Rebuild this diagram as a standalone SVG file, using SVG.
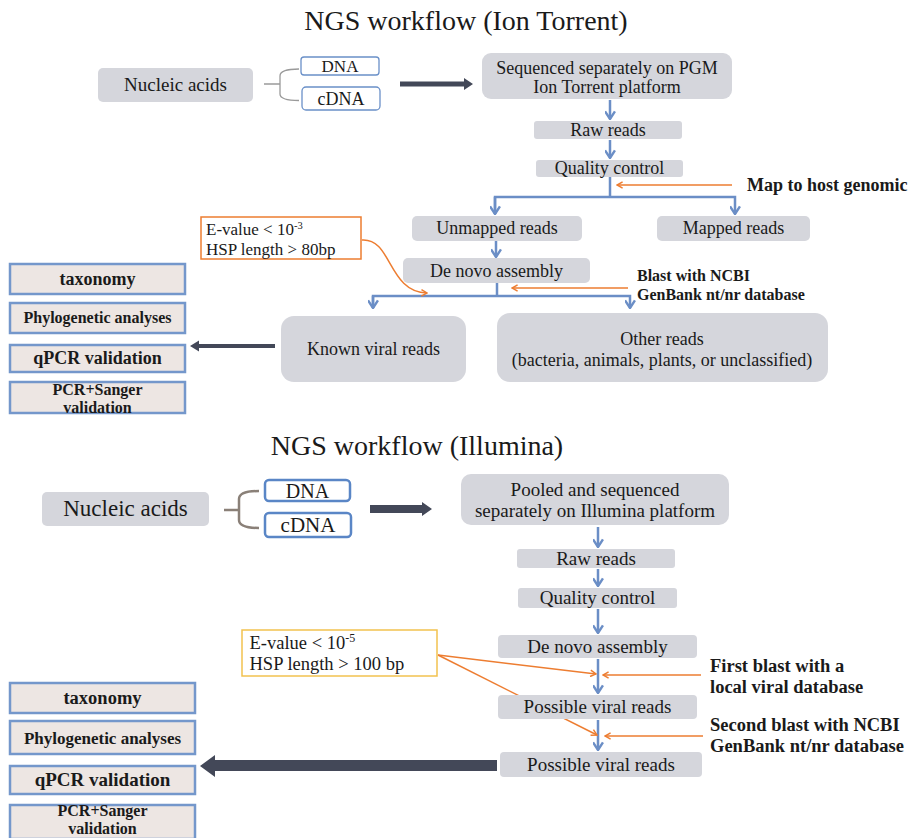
<svg xmlns="http://www.w3.org/2000/svg" width="914" height="838" viewBox="0 0 914 838">
<defs>
<style>
text{font-family:"Liberation Serif","Times New Roman",serif;fill:#1a1a1a}
.g{fill:#d5d6dc}
.w{fill:#fff;stroke:#6a90c8;stroke-width:1.3}
.w2{fill:#fff;stroke:#5a86c6;stroke-width:2.5}
.lb{fill:#ede6e3;stroke:#7497cb;stroke-width:2.5}
.b{font-weight:bold}
.bl{stroke:#6b8ec6;stroke-width:2.5;fill:none}
.or{stroke:#ed7d31;stroke-width:1.5;fill:none}
.dk{fill:#434858}
.c{text-anchor:middle}
</style>
<marker id="ab" viewBox="0 0 10 10" refX="9" refY="5" markerWidth="11" markerHeight="11" markerUnits="userSpaceOnUse" orient="auto">
<path d="M2,0.5 L9,5 L2,9.5" fill="none" stroke="#6b8ec6" stroke-width="2.2"/>
</marker>
<marker id="ao" viewBox="0 0 10 10" refX="9" refY="5" markerWidth="8" markerHeight="8" markerUnits="userSpaceOnUse" orient="auto">
<path d="M2,1 L9,5 L2,9" fill="none" stroke="#ed7d31" stroke-width="1.8"/>
</marker>
</defs>
<rect width="914" height="838" fill="#fff"/>

<text x="466" y="30" class="c" font-size="28">NGS workflow (Ion Torrent)</text>
<text x="417" y="455" class="c" font-size="28">NGS workflow (Illumina)</text>

<g id="connectors">
<!-- top section -->
<path d="M264,84 H280 M299,69 Q280,69 280,76 V94 Q280,100.5 299,100.5" fill="none" stroke="#9a9a9a" stroke-width="1.3"/>
<polygon class="dk" points="400,81.5 464,81.5 464,78 473,84 464,90 464,86.5 400,86.5"/>
<line class="bl" x1="610" y1="100" x2="610" y2="119" marker-end="url(#ab)"/>
<line class="bl" x1="610" y1="140" x2="610" y2="158" marker-end="url(#ab)"/>
<polyline class="bl" points="610,177 610,197"/>
<polyline class="bl" points="495,214 495,197 735,197 735,214" marker-end="url(#ab)"/>
<line class="bl" x1="495" y1="197" x2="495" y2="214" marker-end="url(#ab)"/>
<line class="or" x1="732" y1="185" x2="617" y2="185" marker-end="url(#ao)"/>
<line class="bl" x1="496" y1="241" x2="496" y2="257" marker-end="url(#ab)"/>
<polyline class="bl" points="497,283 497,296"/>
<polyline class="bl" points="373,308 373,296 630,296 630,308" marker-end="url(#ab)"/>
<line class="bl" x1="373" y1="296" x2="373" y2="308" marker-end="url(#ab)"/>
<line class="or" x1="628" y1="288" x2="512" y2="288" marker-end="url(#ao)"/>
<path class="or" d="M362,240 C392,238 388,292 427,293" marker-end="url(#ao)"/>
<polygon class="dk" points="275,344 199,344 199,340.5 190,346 199,351.5 199,348 275,348"/>
<!-- lower section -->
<path d="M224,510 H239 M259,491 Q239,491 239,499 V520 Q239,528 259,528" fill="none" stroke="#8a8078" stroke-width="2.5"/>
<polygon class="dk" points="370,505 422,505 422,502 432,509 422,516 422,513 370,513"/>
<line class="bl" x1="598" y1="527" x2="598" y2="547" marker-end="url(#ab)"/>
<line class="bl" x1="598" y1="569" x2="598" y2="586" marker-end="url(#ab)"/>
<line class="bl" x1="598" y1="609" x2="598" y2="633" marker-end="url(#ab)"/>
<line class="bl" x1="598" y1="659" x2="598" y2="693" marker-end="url(#ab)"/>
<line class="bl" x1="598" y1="720" x2="598" y2="750" marker-end="url(#ab)"/>
<line class="or" x1="701" y1="675" x2="603" y2="675" marker-end="url(#ao)"/>
<line class="or" x1="703" y1="736" x2="605" y2="736" marker-end="url(#ao)"/>
<line class="or" x1="438" y1="655" x2="596" y2="674" marker-end="url(#ao)"/>
<line class="or" x1="438" y1="655" x2="597" y2="735" marker-end="url(#ao)"/>
<polygon class="dk" points="497,760 215,760 215,755 200,766 215,777 215,771 497,771"/>
</g>

<!-- Top section nodes -->
<g id="nucleic1"><rect class="g" x="98" y="68" width="155" height="34" rx="5"/><text x="175.5" y="91" class="c" font-size="19">Nucleic acids</text></g>
<g id="dna1"><rect class="w" x="301" y="57" width="78" height="18" rx="3"/><text x="340" y="72" class="c" font-size="17">DNA</text></g>
<g id="cdna1"><rect class="w" x="302" y="87" width="78" height="23" rx="4"/><text x="341" y="104.5" class="c" font-size="18">cDNA</text></g>
<g id="seq1"><rect class="g" x="482" y="53" width="250" height="46" rx="9"/><text x="607" y="73.5" class="c" font-size="18">Sequenced separately on PGM</text><text x="607" y="93" class="c" font-size="18">Ion Torrent platform</text></g>
<g id="raw1"><rect class="g" x="534" y="121" width="148" height="18" rx="3"/><text x="608" y="136" class="c" font-size="18">Raw reads</text></g>
<g id="qc1"><rect class="g" x="536" y="160" width="147" height="17" rx="3"/><text x="609.5" y="174" class="c" font-size="18">Quality control</text></g>
<g id="map1"><text x="747" y="191" font-size="18" class="b">Map to host genomic</text></g>
<g id="unmapped1"><rect class="g" x="412" y="216" width="170" height="25" rx="5"/><text x="497" y="234" class="c" font-size="18">Unmapped reads</text></g>
<g id="mapped1"><rect class="g" x="657" y="216" width="153" height="25" rx="5"/><text x="733.5" y="234" class="c" font-size="18">Mapped reads</text></g>
<g id="evalue1"><rect x="201" y="217" width="160" height="42" fill="#fff" stroke="#ed7d31" stroke-width="1.5"/><text x="206" y="235" font-size="17">E-value &lt; 10<tspan dy="-6" font-size="10.5">-3</tspan></text><text x="206" y="254.5" font-size="17">HSP length &gt; 80bp</text></g>
<g id="denovo1"><rect class="g" x="403" y="258" width="187" height="25" rx="5"/><text x="496.5" y="276.5" class="c" font-size="18">De novo assembly</text></g>
<g id="blast1"><text x="637" y="281" font-size="16" class="b">Blast with NCBI</text><text x="637" y="299.5" font-size="16" class="b">GenBank nt/nr database</text></g>
<g id="known1"><rect class="g" x="281" y="316" width="185" height="66" rx="13"/><text x="373.5" y="355" class="c" font-size="18">Known viral reads</text></g>
<g id="other1"><rect class="g" x="497" y="313" width="331" height="69" rx="13"/><text x="662" y="345" class="c" font-size="18">Other reads</text><text x="662" y="366" class="c" font-size="18">(bacteria, animals, plants, or unclassified)</text></g>
<g id="tax1"><rect class="lb" x="10" y="264" width="175" height="30"/><text x="97.5" y="285" class="c b" font-size="18">taxonomy</text></g>
<g id="phylo1"><rect class="lb" x="10" y="303" width="175" height="30"/><text x="97.5" y="323" class="c b" font-size="16">Phylogenetic analyses</text></g>
<g id="qpcr1"><rect class="lb" x="10" y="345" width="175" height="27"/><text x="97.5" y="364" class="c b" font-size="18">qPCR validation</text></g>
<g id="sanger1"><rect class="lb" x="10" y="382" width="175" height="31"/><text x="97.5" y="395" class="c b" font-size="16">PCR+Sanger</text><text x="97.5" y="413" class="c b" font-size="16">validation</text></g>

<!-- Lower section nodes -->
<g id="nucleic2"><rect class="g" x="42" y="492" width="167" height="34" rx="5"/><text x="125.5" y="516" class="c" font-size="23">Nucleic acids</text></g>
<g id="dna2"><rect class="w2" x="265" y="480" width="85" height="21" rx="4"/><text x="307.5" y="497.5" class="c" font-size="20">DNA</text></g>
<g id="cdna2"><rect class="w2" x="265" y="513" width="86" height="24" rx="4"/><text x="308" y="532" class="c" font-size="21">cDNA</text></g>
<g id="pooled2"><rect class="g" x="461" y="474" width="268" height="51" rx="10"/><text x="595" y="496" class="c" font-size="19">Pooled and sequenced</text><text x="595" y="517" class="c" font-size="19">separately on Illumina platform</text></g>
<g id="raw2"><rect class="g" x="517" y="549" width="158" height="19" rx="3"/><text x="596" y="565" class="c" font-size="19">Raw reads</text></g>
<g id="qc2"><rect class="g" x="518" y="588" width="159" height="20" rx="3"/><text x="597.5" y="604" class="c" font-size="19">Quality control</text></g>
<g id="evalue2"><rect x="242" y="630" width="195" height="46" fill="#fff" stroke="#f2c24f" stroke-width="1.5"/><text x="249.5" y="649" font-size="18.5">E-value &lt; 10<tspan dy="-7" font-size="12">-5</tspan></text><text x="249.5" y="670" font-size="18.5">HSP length &gt; 100 bp</text></g>
<g id="denovo2"><rect class="g" x="498" y="635" width="199" height="23" rx="4"/><text x="597.5" y="653" class="c" font-size="19">De novo assembly</text></g>
<g id="first2"><text x="710" y="672" font-size="18.5" class="b">First blast with a</text><text x="710" y="693" font-size="18.5" class="b">local viral database</text></g>
<g id="pv1"><rect class="g" x="498" y="695" width="199" height="24" rx="4"/><text x="597.5" y="713" class="c" font-size="19">Possible viral reads</text></g>
<g id="second2"><text x="710" y="731" font-size="18.5" class="b">Second blast with NCBI</text><text x="710" y="752" font-size="18.5" class="b">GenBank nt/nr database</text></g>
<g id="pv2"><rect class="g" x="500" y="752" width="202" height="25" rx="4"/><text x="601" y="771" class="c" font-size="19">Possible viral reads</text></g>
<g id="tax2"><rect class="lb" x="10" y="683" width="185" height="30"/><text x="102.5" y="704" class="c b" font-size="18.5">taxonomy</text></g>
<g id="phylo2"><rect class="lb" x="10" y="721" width="185" height="33"/><text x="102.5" y="744" class="c b" font-size="17">Phylogenetic analyses</text></g>
<g id="qpcr2"><rect class="lb" x="10" y="766" width="185" height="28"/><text x="102.5" y="786" class="c b" font-size="19">qPCR validation</text></g>
<g id="sanger2"><rect class="lb" x="10" y="805" width="185" height="34"/><text x="102.5" y="816" class="c b" font-size="16">PCR+Sanger</text><text x="102.5" y="834" class="c b" font-size="16">validation</text></g>
</svg>
